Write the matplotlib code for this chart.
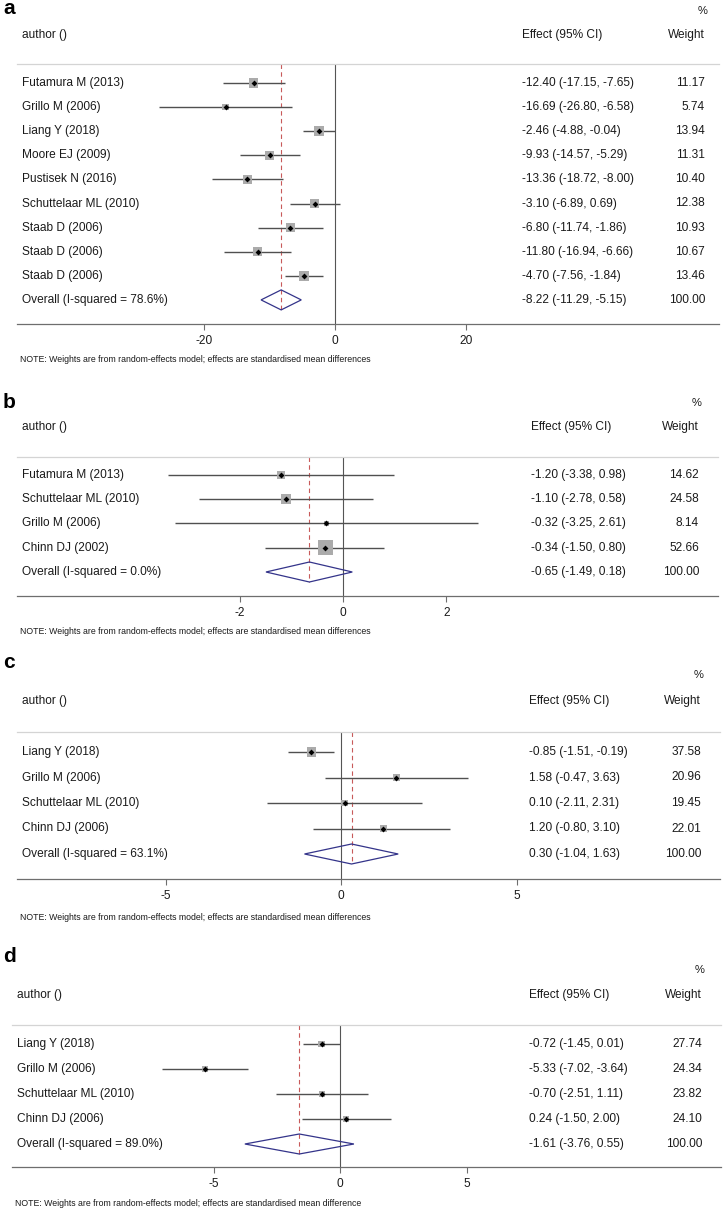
import matplotlib
matplotlib.use("Agg")
import matplotlib.pyplot as plt
import matplotlib.transforms as mtransforms
from matplotlib.patches import Polygon

plt.rcParams['font.family'] = ['Liberation Sans', 'DejaVu Sans']

W, H = 723, 1211

# ---- data -------------------------------------------------------------
a_studies = ["Futamura M (2013)", "Grillo M (2006)", "Liang Y (2018)", "Moore EJ (2009)",
             "Pustisek N (2016)", "Schuttelaar ML (2010)", "Staab D (2006)", "Staab D (2006)",
             "Staab D (2006)"]
a_es = [-12.40, -16.69, -2.46, -9.93, -13.36, -3.10, -6.80, -11.80, -4.70]
a_lo = [-17.15, -26.80, -4.88, -14.57, -18.72, -6.89, -11.74, -16.94, -7.56]
a_hi = [-7.65, -6.58, -0.04, -5.29, -8.00, 0.69, -1.86, -6.66, -1.84]
a_wt = [11.17, 5.74, 13.94, 11.31, 10.40, 12.38, 10.93, 10.67, 13.46]
a_overall = ("Overall (I-squared = 78.6%)", -8.22, -11.29, -5.15)
a_ticks = [-20, 0, 20]

b_studies = ["Futamura M (2013)", "Schuttelaar ML (2010)", "Grillo M (2006)", "Chinn DJ (2002)"]
b_es = [-1.20, -1.10, -0.32, -0.34]
b_lo = [-3.38, -2.78, -3.25, -1.50]
b_hi = [0.98, 0.58, 2.61, 0.80]
b_wt = [14.62, 24.58, 8.14, 52.66]
b_overall = ("Overall (I-squared = 0.0%)", -0.65, -1.49, 0.18)
b_ticks = [-2, 0, 2]

c_studies = ["Liang Y (2018)", "Grillo M (2006)", "Schuttelaar ML (2010)", "Chinn DJ (2006)"]
c_es = [-0.85, 1.58, 0.10, 1.20]
c_lo = [-1.51, -0.47, -2.11, -0.80]
c_hi = [-0.19, 3.63, 2.31, 3.10]
c_wt = [37.58, 20.96, 19.45, 22.01]
c_overall = ("Overall (I-squared = 63.1%)", 0.30, -1.04, 1.63)
c_ticks = [-5, 0, 5]

d_studies = ["Liang Y (2018)", "Grillo M (2006)", "Schuttelaar ML (2010)", "Chinn DJ (2006)"]
d_es = [-0.72, -5.33, -0.70, 0.24]
d_lo = [-1.45, -7.02, -2.51, -1.50]
d_hi = [0.01, -3.64, 1.11, 2.00]
d_wt = [27.74, 24.34, 23.82, 24.10]
d_overall = ("Overall (I-squared = 89.0%)", -1.61, -3.76, 0.55)
d_ticks = [-5, 0, 5]

note = "NOTE: Weights are from random-effects model; effects are standardised mean differences"
note_d = "NOTE: Weights are from random-effects model; effects are standardised mean difference"

fig = plt.figure(figsize=(W / 100, H / 100), dpi=100)

TXT = "#1a1a1a"
FS = 8.6


def fy(y):
    return 1 - y / H


def fx(x):
    return x / W


def forest(label, studies, es, lo, hi, wt, overall, ticks, note_txt, lay):
    x0, x1 = lay["x0"], lay["x1"]
    top, bottom = lay["top"], lay["bottom"]
    ax = fig.add_axes([fx(x0), fy(bottom), fx(x1 - x0), (bottom - top) / H])
    n = len(studies)
    step = lay["step"]
    ax.set_xlim((x0 - lay["zero"]) / lay["unit"], (x1 - lay["zero"]) / lay["unit"])
    ax.set_ylim(n + (bottom - (lay["row0"] + n * step)) / step, -(lay["row0"] - top) / step)

    for s in ["left", "right"]:
        ax.spines[s].set_visible(False)
    ax.spines["top"].set_color("#d4d4d4")
    ax.spines["bottom"].set_color("#6e6e6e")
    ax.spines["top"].set_linewidth(0.9)
    ax.spines["bottom"].set_linewidth(0.9)
    ax.set_yticks([])
    ax.set_xticks(ticks)
    ax.set_xticklabels([str(t) for t in ticks])
    ax.tick_params(axis="x", length=4, width=0.8, color="#6e6e6e", pad=4,
                   labelsize=FS, labelcolor=TXT)

    rows = list(range(n))
    ax.axvline(0, color="#555555", lw=0.8, zorder=1)
    oname, oes, olo, ohi = overall
    h = 10 / step
    # dashed line at the pooled effect
    ax.plot([oes, oes], [ax.get_ylim()[1], n + h], color="#c85a5a", lw=0.8,
            ls=(0, (4, 3)), zorder=1)

    ax.hlines(rows, lo, hi, color="#505050", lw=1.0, zorder=2)
    side = [lay["k"] * (w ** 0.5) * 0.72 for w in wt]
    ax.scatter(es, rows, s=[sd ** 2 for sd in side], marker="s", color="#ababab",
               linewidths=0, zorder=3)
    ax.scatter(es, rows, s=9, marker="D", color="black", linewidths=0, zorder=4)

    ax.add_patch(Polygon([(olo, n), (oes, n - h), (ohi, n), (oes, n + h)], closed=True,
                         fill=False, edgecolor="#34348a", lw=0.9, zorder=3))

    tr = mtransforms.blended_transform_factory(fig.transFigure, ax.transData)
    names = studies + [oname]
    effs = list(es) + [oes]
    los = list(lo) + [olo]
    his = list(hi) + [ohi]
    wts = list(wt) + [100.0]
    for i in range(n + 1):
        ax.text(fx(lay["ax"]), i, names[i], transform=tr, ha="left", va="center",
                fontsize=FS, color=TXT, clip_on=False)
        ax.text(fx(lay["ex"]), i, f"{effs[i]:.2f} ({los[i]:.2f}, {his[i]:.2f})",
                transform=tr, ha="left", va="center", fontsize=FS, color=TXT, clip_on=False)
        ax.text(fx(lay["wx"]), i, f"{wts[i]:.2f}", transform=tr, ha="right", va="center",
                fontsize=FS, color=TXT, clip_on=False)

    fig.text(fx(3), fy(lay["lab"]), label, fontsize=15, fontweight="bold",
             ha="left", va="baseline", color="black")
    fig.text(fx(lay["wx"] - 2), fy(lay["pct"]), "%", fontsize=FS - 0.6, ha="center",
             va="center", color=TXT)
    fig.text(fx(lay["ax"]), fy(lay["head"]), "author ()", fontsize=FS, ha="left",
             va="center", color=TXT)
    fig.text(fx(lay["ex"]), fy(lay["head"]), "Effect (95% CI)", fontsize=FS, ha="left",
             va="center", color=TXT)
    fig.text(fx(lay["wx"]), fy(lay["head"]), "Weight", fontsize=FS, ha="right",
             va="center", color=TXT)
    fig.text(fx(lay["ax"] - 2), fy(lay["note"]), note_txt, fontsize=6.35, ha="left",
             va="center", color=TXT)
    return ax


forest("a", a_studies, a_es, a_lo, a_hi, a_wt, a_overall, a_ticks, note,
       dict(x0=17, x1=719, zero=335, unit=6.55, top=64, bottom=324, row0=83, step=24.1,
            lab=14, pct=11, head=35, note=360, ax=22, ex=522, wx=705, k=2.7))
forest("b", b_studies, b_es, b_lo, b_hi, b_wt, b_overall, b_ticks, note,
       dict(x0=17, x1=718, zero=343, unit=51.7, top=457, bottom=596, row0=475, step=24.25,
            lab=408, pct=403, head=427, note=631, ax=22, ex=531, wx=699, k=2.0))
forest("c", c_studies, c_es, c_lo, c_hi, c_wt, c_overall, c_ticks, note,
       dict(x0=17, x1=720, zero=341, unit=35.1, top=732, bottom=879, row0=752, step=25.5,
            lab=668, pct=675, head=701, note=917, ax=22, ex=529, wx=701, k=1.5))
forest("d", d_studies, d_es, d_lo, d_hi, d_wt, d_overall, d_ticks, note_d,
       dict(x0=12, x1=721, zero=340, unit=25.3, top=1025, bottom=1167, row0=1044, step=25,
            lab=962, pct=970, head=995, note=1204, ax=17, ex=529, wx=702, k=1.3))

fig.savefig("out.png", dpi=100)
